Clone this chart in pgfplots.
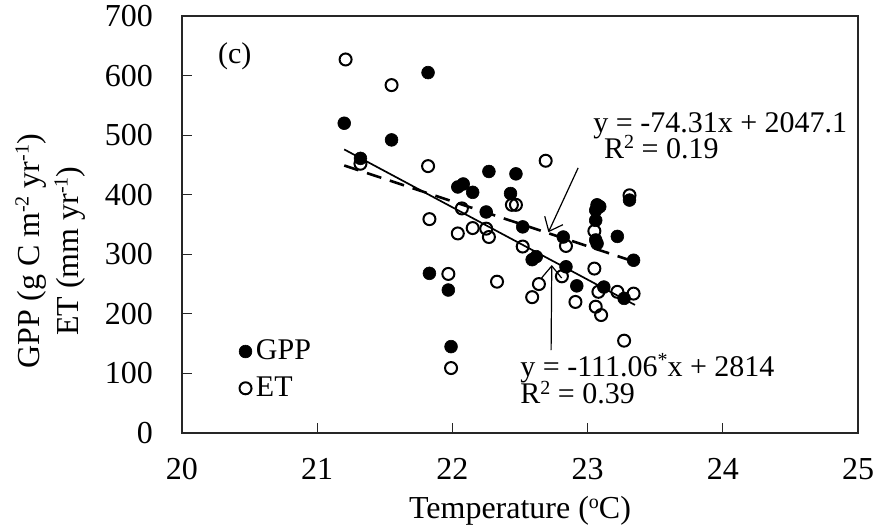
\documentclass[border=0pt]{standalone}
\usepackage{pgfplots}
\pgfplotsset{compat=1.18}
\usepackage{fontspec}
\setmainfont{Liberation Serif}
\usetikzlibrary{arrows.meta}
\newcommand{\sups}[1]{\raisebox{0.33em}{\fontsize{10}{10}\selectfont #1}}
\pgfplotsset{dotlegend/.style={legend image code/.code={\draw[mark repeat=2,mark phase=2,##1] plot coordinates {(0cm,0cm)(0.12cm,0cm)(0.36cm,0cm)};}}}
\pgfplotstableread{
x y
21.20 520
21.82 605
21.55 492
21.32 461
22.27 439
22.47 435
22.04 413
22.08 418
22.15 404
22.25 371
21.83 268
21.97 240
21.99 145
22.43 402
22.52 346
22.62 296
22.59 291
22.82 329
22.84 279
23.07 383
23.09 380
23.06 374
23.06 357
23.06 324
23.07 318
23.22 330
23.31 391
23.34 290
22.92 247
23.12 245
23.27 226
}\gpp
\pgfplotstableread{
x y
21.21 627
21.55 584
21.82 448
21.32 452
22.07 377
21.83 359
22.04 335
22.15 344
22.25 343
22.27 329
21.97 267
21.99 109
22.69 457
22.44 383
22.47 383
22.52 313
22.84 314
23.05 339
23.05 276
22.64 250
22.81 263
22.33 254
23.31 399
22.59 228
22.91 220
23.08 237
23.06 212
23.10 198
23.22 237
23.34 234
23.27 155
}\et
\begin{document}
\begin{tikzpicture}
\useasboundingbox (-91pt,-47.5pt) rectangle (347.5pt,216.5pt);
\begin{axis}[
  scale only axis, width=338pt, height=208.5pt,
  xmin=20, xmax=25, ymin=0, ymax=700,
  xtick={20,21,...,25}, ytick={0,100,...,700},
  tick pos=left, tick align=inside, major tick length=5pt,
  axis line style={black!85, line width=0.9pt},
  tick style={black!85, line width=0.6pt},
  /pgf/number format/assume math mode=true,
  ticklabel style={font=\fontsize{16}{19}\selectfont},
  yticklabel style={xshift=-11pt},
  xticklabel style={yshift=-9pt},
  xlabel={Temperature (\sups{o}C)},
  xlabel style={font=\fontsize{16}{19}\selectfont, yshift=-1.5pt},
  ylabel={GPP (g C m\sups{-2} yr\sups{-1})\\ET (mm yr\sups{-1})},
  ylabel style={font=\fontsize{16}{19.5}\selectfont, align=center, at={(axis description cs:-0.195,0.436)}, anchor=center},
  legend style={draw=none, fill=none, font=\fontsize{15}{18}\selectfont, at={(axis cs:20.39,106)}, anchor=west, row sep=3pt, inner sep=2pt},
  legend cell align=left,
]
\addplot[only marks, mark=*, mark size=3.2pt, mark options={fill=black, draw=black, line width=0.3pt}, dotlegend] table {\gpp};
\addlegendentry{GPP}
\addplot[only marks, mark=o, mark size=3.0pt, mark options={fill=white, draw=black, line width=1pt}, dotlegend] table {\et};
\addlegendentry{ET}
\addplot[black, line width=0.85pt, forget plot] coordinates {(21.2,476) (23.35,215)};
\addplot[black, line width=1.3pt, dash pattern=on 7.5pt off 4.5pt, forget plot] coordinates {(21.2,449) (23.38,285)};
\draw[-{Straight Barb[length=6pt,width=10pt]}, line width=0.6pt] (axis cs:22.93,445) -- (axis cs:22.71,337);
\draw[-{Straight Barb[length=6pt,width=10pt]}, line width=0.6pt] (axis cs:22.73,139) -- (axis cs:22.735,282);
\node[anchor=base west, inner sep=0pt, font=\fontsize{15}{18}\selectfont] at (axis cs:23.04,505) {y = -74.31x + 2047.1};
\node[anchor=base west, inner sep=0pt, font=\fontsize{15}{18}\selectfont] at (axis cs:23.12,461) {R\sups{2} = 0.19};
\node[anchor=base west, inner sep=0pt, font=\fontsize{15}{18}\selectfont] at (axis cs:22.50,94.5) {y = -111.06\sups{*}x + 2814};
\node[anchor=base west, inner sep=0pt, font=\fontsize{15}{18}\selectfont] at (axis cs:22.50,48.7) {R\sups{2} = 0.39};
\node[anchor=base west, inner sep=0pt, font=\fontsize{15}{18}\selectfont] at (axis cs:20.264,620) {(c)};
\end{axis}
\end{tikzpicture}
\end{document}
